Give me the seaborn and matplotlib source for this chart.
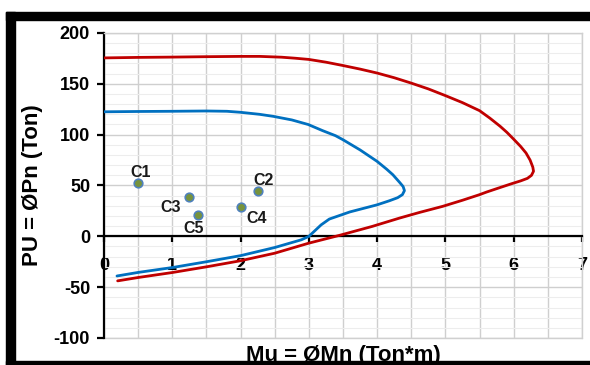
import numpy as np
import pandas as pd
import matplotlib
matplotlib.use("Agg")
import matplotlib.pyplot as plt
from matplotlib.patches import Rectangle
from matplotlib.ticker import MultipleLocator
import seaborn as sns

# ---- data ----
red_mu = [0.0, 0.5, 1.0, 1.5, 2.0, 2.28, 2.6, 2.8, 3.0, 3.25, 3.5, 3.75, 4.0, 4.25, 4.5, 4.75,
          5.0, 5.25, 5.5, 5.65, 5.8, 5.9, 6.0, 6.1, 6.18, 6.24, 6.28, 6.29, 6.26, 6.2, 6.1,
          5.98, 5.8, 5.6, 5.5, 5.25, 4.96, 4.62, 4.33, 3.93, 3.45, 3.0, 2.5, 2.0, 1.5, 1.0, 0.5, 0.2]
red_pu = [175.5, 176.0, 176.3, 176.7, 177.0, 177.0, 176.2, 175.2, 174.0, 171.3, 168.0, 164.5, 160.6, 156.0, 150.7, 145.0,
          138.4, 131.5, 123.6, 116.3, 108.3, 102.3, 95.5, 88.5, 82.0, 75.0, 68.0, 64.0, 60.0, 57.0, 54.5,
          52.0, 48.0, 43.5, 41.0, 35.5, 29.5, 23.5, 18.0, 9.8, 1.0, -6.7, -16.6, -24.0, -30.0, -35.6, -40.5, -43.8]

blue_mu = [0.0, 0.5, 1.0, 1.5, 1.8, 2.0, 2.28, 2.48, 2.75, 2.99, 3.2, 3.39, 3.5, 3.75, 4.0, 4.14,
           4.23, 4.33, 4.38, 4.40, 4.37, 4.30, 4.18, 4.0, 3.8, 3.6, 3.45, 3.3, 3.18, 3.08, 3.0,
           2.89, 2.5, 2.0, 1.5, 1.0, 0.5, 0.19]
blue_pu = [122.5, 122.8, 123.0, 123.3, 123.0, 122.0, 120.0, 118.0, 114.5, 110.0, 104.0, 99.0, 95.0, 85.0, 73.7, 66.0,
           60.6, 53.0, 49.0, 45.0, 41.0, 38.0, 35.0, 31.0, 27.5, 24.0, 20.5, 17.0, 11.3, 5.0, 0.0,
           -3.4, -11.0, -19.0, -25.0, -30.7, -35.5, -39.0]

col_names = ["C1", "C2", "C3", "C4", "C5"]
col_mu = [0.5, 2.26, 1.24, 2.0, 1.38]
col_pu = [52.5, 45.0, 39.0, 28.5, 21.0]

x_ticks = [0, 1, 2, 3, 4, 5, 6, 7]
y_ticks = [-100, -50, 0, 50, 100, 150, 200]

sns.set_style("white")
plt.rcParams['font.family'] = ['Liberation Sans', 'DejaVu Sans']
plt.rcParams['font.weight'] = 'bold'

fig = plt.figure(figsize=(5.9, 3.65), dpi=100)
W, H = 590, 365
ax = fig.add_axes([104 / W, 1 - 338 / H, (582 - 104) / W, (338 - 33) / H])

ax.set_xlim(0, 7)
ax.set_ylim(-100, 200)

# grid
ax.xaxis.set_major_locator(MultipleLocator(1))
ax.xaxis.set_minor_locator(MultipleLocator(0.5))
ax.yaxis.set_major_locator(MultipleLocator(50))
ax.yaxis.set_minor_locator(MultipleLocator(10))
ax.grid(True, which='major', axis='both', color='#cfcfcf', lw=1.0, zorder=0)
ax.grid(True, which='minor', axis='x', color='#cfcfcf', lw=1.0, zorder=0)
ax.grid(True, which='minor', axis='y', color='#ededed', lw=0.8, zorder=0)
ax.set_axisbelow(True)

# curves
df_red = pd.DataFrame({"Mu": red_mu, "PU": red_pu})
df_blue = pd.DataFrame({"Mu": blue_mu, "PU": blue_pu})
sns.lineplot(data=df_red, x="Mu", y="PU", sort=False, estimator=None, ax=ax,
             color="#C00000", lw=2.0, zorder=3, solid_joinstyle='round', solid_capstyle='round')
sns.lineplot(data=df_blue, x="Mu", y="PU", sort=False, estimator=None, ax=ax,
             color="#0070C0", lw=2.0, zorder=3, solid_joinstyle='round', solid_capstyle='round')

df_pts = pd.DataFrame({"Mu": col_mu, "PU": col_pu, "name": col_names})
sns.scatterplot(data=df_pts, x="Mu", y="PU", ax=ax, color="#77933C",
                edgecolor="#4F81BD", linewidth=1.2, s=38, zorder=4)

offsets = {"C1": (2, 10), "C2": (5, 10), "C3": (-18, -11), "C4": (16, -11), "C5": (-5, -14)}
for n, xm, yp in zip(col_names, col_mu, col_pu):
    dx, dy = offsets[n]
    ax.annotate(n, (xm, yp), xytext=(dx * 0.72, dy * 0.72), textcoords='offset points',
                ha='center', va='center', fontsize=11.5, fontweight='bold', color='#1a1a1a')

# spines
ax.spines['bottom'].set_position(('data', 0))
ax.spines['bottom'].set_color('black')
ax.spines['bottom'].set_linewidth(1.6)
ax.spines['left'].set_color('black')
ax.spines['left'].set_linewidth(1.6)
for s in ['top', 'right']:
    ax.spines[s].set_color('#d0d0d0')
    ax.spines[s].set_linewidth(1.0)
ax.axhline(-100, color='#d0d0d0', lw=1.0, clip_on=False, zorder=1)

ax.set_xticks(x_ticks)
ax.set_yticks(y_ticks)
ax.set_xticklabels([str(v) for v in x_ticks])
ax.set_yticklabels([str(v) for v in y_ticks])
ax.tick_params(axis='x', which='major', direction='out', length=4, width=1.6,
               pad=11, labelsize=13, colors='black', bottom=True)
ax.tick_params(axis='y', which='major', direction='out', length=5, width=1.6,
               pad=5, labelsize=13, colors='black', left=True)
ax.tick_params(which='minor', length=0)
for lab in ax.get_xticklabels() + ax.get_yticklabels():
    lab.set_fontweight('bold')

ax.set_xlabel("Mu = ØMn (Ton*m)", fontsize=16, fontweight='bold', color='black')
ax.xaxis.set_label_coords(0.5, -0.022)
ax.xaxis.label.set_va('top')
ax.set_ylabel("PU = ØPn (Ton)", fontsize=16, fontweight='bold', color='black')
ax.yaxis.set_label_coords(-0.149, 0.5)
ax.yaxis.label.set_va('center')

# black frame around the chart
fig.add_artist(Rectangle((6 / W, 1 - 20 / H), 1 - 6 / W, 8 / H, transform=fig.transFigure,
                         color='black', zorder=10))
fig.add_artist(Rectangle((6 / W, 0), 9 / W, 1 - 12 / H, transform=fig.transFigure,
                         color='black', zorder=10))
fig.add_artist(Rectangle((6 / W, 0), 1 - 6 / W, 4 / H, transform=fig.transFigure,
                         color='black', zorder=10))

fig.savefig("out.png", dpi=100, facecolor='white')
